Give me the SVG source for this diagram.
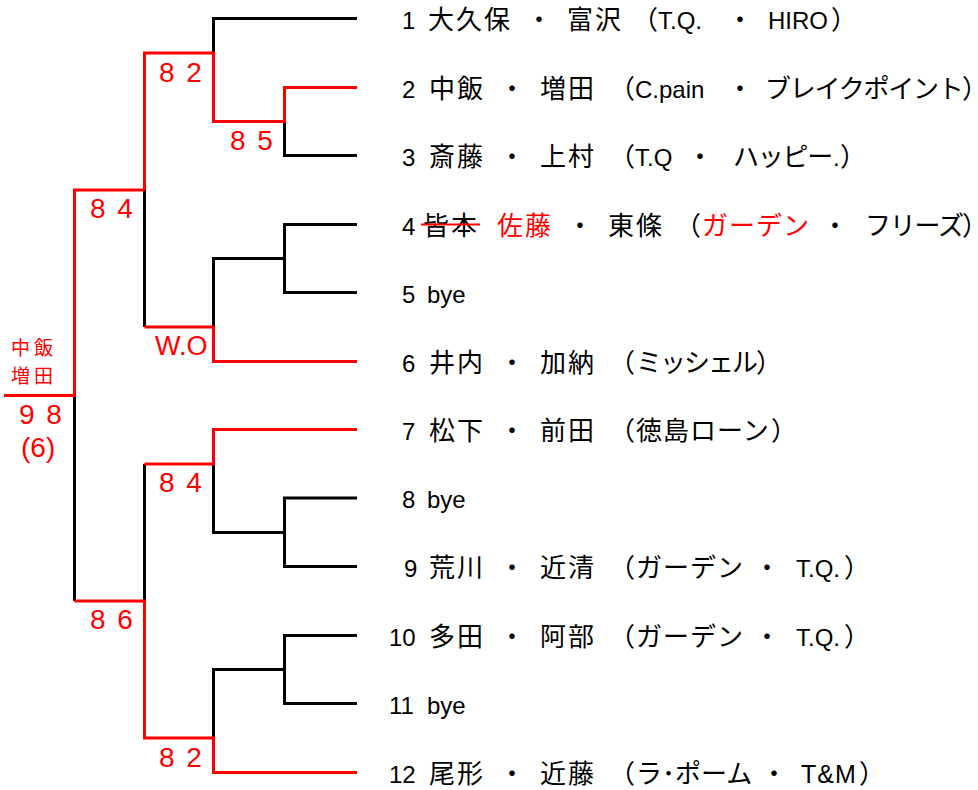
<svg xmlns="http://www.w3.org/2000/svg" width="978" height="790" viewBox="0 0 978 790">
<style>
.k{fill:none;stroke:#000;stroke-width:3}
.rd{fill:none;stroke:#f00;stroke-width:3}
text{font-family:"Liberation Sans","Noto Sans CJK JP",sans-serif;font-size:24px;fill:#000}
.j{font-family:"Noto Sans CJK JP",sans-serif;font-size:26px;letter-spacing:2px}
.p{font-family:"Noto Sans CJK JP",sans-serif;font-size:26px;font-feature-settings:"palt"}
.kk{letter-spacing:-1.25px}
.r{fill:#f00}
.s{font-size:28px;fill:#f00;word-spacing:4px}
.w{font-family:"Noto Sans CJK JP",sans-serif;font-size:19px;fill:#f00;letter-spacing:4px}
</style>
<rect width="978" height="790" fill="#fff"/>
<g id="connectors">
<path class="k" d="M357,18.5H213.5V53"/>
<path class="k" d="M284.5,121.5V155.5H357"/>
<path class="k" d="M357,224.5H284.5V292.5H357"/>
<path class="k" d="M213.5,327V258.5H286"/>
<path class="k" d="M144.5,190V327"/>
<path class="k" d="M74.5,395.5V601"/>
<path class="k" d="M144.5,464V601"/>
<path class="k" d="M213.5,464V532.5H286"/>
<path class="k" d="M357,498H284.5V566.5H357"/>
<path class="k" d="M357,635.5H284.5V703.5H357"/>
<path class="k" d="M213.5,738V669.5H286"/>
<path class="rd" d="M144.5,190V53H213.5V121.5H284.5V87.5H357"/>
<path class="rd" d="M4,395.5H74.5V190H144.5"/>
<path class="rd" d="M144.5,327H213.5V361.5H357"/>
<path class="rd" d="M144.5,464H213.5V429.5H357"/>
<path class="rd" d="M74.5,601H144.5V738H213.5V772.5H357"/>
</g>
<g id="entry1"><text y="28.5"><tspan x="402">1 </tspan><tspan class="j" x="428">大久保 </tspan><tspan class="j" x="526">・ </tspan><tspan class="j" x="567">富沢 </tspan><tspan class="p" x="644">（</tspan><tspan x="658">T.Q. </tspan><tspan class="j" x="727">・ </tspan><tspan x="768">HIRO</tspan><tspan class="p" x="832">）</tspan></text></g>
<g id="entry2"><text y="97.5"><tspan x="402">2 </tspan><tspan class="j" x="429">中飯 </tspan><tspan class="j" x="499">・ </tspan><tspan class="j" x="540">増田 </tspan><tspan class="p" x="621">（</tspan><tspan x="635">C.pain </tspan><tspan class="j" x="727">・ </tspan><tspan class="j kk" x="765">ブレイクポイント</tspan><tspan class="p" x="963">）</tspan></text></g>
<g id="entry3"><text y="165.5"><tspan x="402">3 </tspan><tspan class="j" x="429">斎藤 </tspan><tspan class="j" x="499">・ </tspan><tspan class="j" x="540">上村 </tspan><tspan class="p" x="621">（</tspan><tspan x="635">T.Q </tspan><tspan class="j" x="687">・ </tspan><tspan class="j kk" x="733">ハッピー</tspan><tspan x="833">.</tspan><tspan class="p" x="841">）</tspan></text></g>
<g id="entry4"><text y="234.5"><tspan x="402">4 </tspan><tspan class="j" x="423">皆本 </tspan><tspan class="j r" x="497">佐藤 </tspan><tspan class="j" x="567">・ </tspan><tspan class="j" x="608">東條 </tspan><tspan class="p" x="687">（</tspan><tspan class="j r" x="702" style="letter-spacing:1px">ガーデン </tspan><tspan class="j" x="822">・ </tspan><tspan class="j kk" x="865">フリーズ</tspan><tspan class="p" x="963">）</tspan></text><line x1="421" y1="224.5" x2="480" y2="224.5" stroke="#f00" stroke-width="2"/></g>
<g id="entry5"><text y="302.5"><tspan x="402">5 </tspan><tspan x="427">bye</tspan></text></g>
<g id="entry6"><text y="371.5"><tspan x="402">6 </tspan><tspan class="j" x="429">井内 </tspan><tspan class="j" x="499">・ </tspan><tspan class="j" x="540">加納 </tspan><tspan class="p" x="621">（</tspan><tspan class="j" x="636" style="letter-spacing:-2px">ミッシェル</tspan><tspan class="p" x="757">）</tspan></text></g>
<g id="entry7"><text y="439.5"><tspan x="402">7 </tspan><tspan class="j" x="429">松下 </tspan><tspan class="j" x="499">・ </tspan><tspan class="j" x="540">前田 </tspan><tspan class="p" x="621">（</tspan><tspan class="j" x="636" style="letter-spacing:1px">徳島ローン</tspan><tspan class="p" x="772">）</tspan></text></g>
<g id="entry8"><text y="508"><tspan x="402">8 </tspan><tspan x="427">bye</tspan></text></g>
<g id="entry9"><text y="576.5"><tspan x="404">9 </tspan><tspan class="j" x="429">荒川 </tspan><tspan class="j" x="499">・ </tspan><tspan class="j" x="540">近清 </tspan><tspan class="p" x="621">（</tspan><tspan class="j" x="636" style="letter-spacing:1px">ガーデン </tspan><tspan class="j" x="754">・ </tspan><tspan x="796">T.Q.</tspan><tspan class="p" x="845">）</tspan></text></g>
<g id="entry10"><text y="645.5"><tspan x="389">10 </tspan><tspan class="j" x="429">多田 </tspan><tspan class="j" x="499">・ </tspan><tspan class="j" x="540">阿部 </tspan><tspan class="p" x="621">（</tspan><tspan class="j" x="636" style="letter-spacing:1px">ガーデン </tspan><tspan class="j" x="754">・ </tspan><tspan x="796">T.Q.</tspan><tspan class="p" x="845">）</tspan></text></g>
<g id="entry11"><text y="713.5"><tspan x="389">11 </tspan><tspan x="427">bye</tspan></text></g>
<g id="entry12"><text y="782.5"><tspan x="389">12 </tspan><tspan class="j" x="429">尾形 </tspan><tspan class="j" x="499">・ </tspan><tspan class="j" x="540">近藤 </tspan><tspan class="p" x="621">（</tspan><tspan class="j" x="636" style="letter-spacing:0">ラ･ポーム </tspan><tspan class="j" x="761">・ </tspan><tspan x="801" style="font-size:25px;letter-spacing:1px">T&amp;M</tspan><tspan class="p" x="860">）</tspan></text></g>
<g id="score-r1a"><text class="s" x="159" y="82">8 2</text></g>
<g id="score-r1b"><text class="s" x="230" y="150">8 5</text></g>
<g id="score-r2a"><text class="s" x="90" y="218">8 4</text></g>
<g id="score-r1c"><text class="s" x="155" y="355" style="font-size:27px">W.O</text></g>
<g id="winner"><text class="w"><tspan x="11" y="355">中飯</tspan><tspan x="11" y="383">増田</tspan></text><text class="s" x="19" y="424">9 8</text><text class="s" x="21" y="457">(6)</text></g>
<g id="score-r1d"><text class="s" x="159" y="492">8 4</text></g>
<g id="score-r2b"><text class="s" x="90" y="629">8 6</text></g>
<g id="score-r1e"><text class="s" x="159" y="767">8 2</text></g>
</svg>
